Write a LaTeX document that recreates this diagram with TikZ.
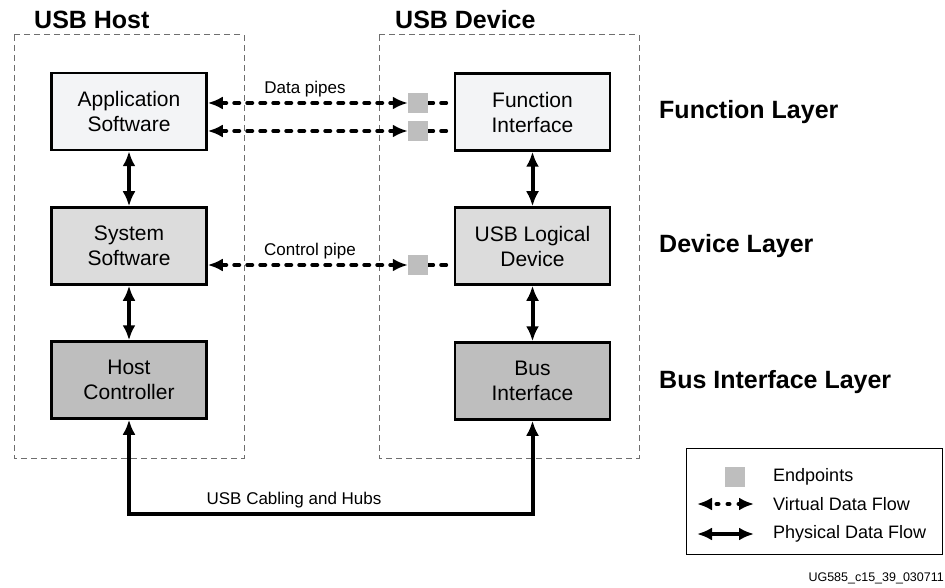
\documentclass[tikz,border=0pt]{standalone}
\usepackage{fontspec}
\setmainfont{Liberation Sans}
\usetikzlibrary{arrows.meta,positioning,calc}
\definecolor{fnfill}{HTML}{F3F4F6}
\definecolor{devfill}{HTML}{DCDCDC}
\definecolor{busfill}{HTML}{BEBEBE}
\definecolor{keretszin}{HTML}{6E6E6E}
\tikzset{
  blokk/.style={draw,line width=2.5pt,minimum width=155pt,minimum height=77pt,
    align=center,inner sep=2pt,font=\fontsize{21}{25}\selectfont},
  vegp/.style={fill=busfill,minimum size=20pt,inner sep=0pt},
  keret/.style={draw=keretszin,line width=1pt,dash pattern=on 6pt off 4pt},
  fiz/.style={line width=4pt,{Latex[length=15pt,width=13pt]}-{Latex[length=15pt,width=13pt]}},
  virt/.style={line width=4pt,line cap=round,dash pattern=on 5pt off 8pt},
  virtnyil/.style={virt,{Latex[length=15pt,width=13pt]}-{Latex[length=15pt,width=13pt]}},
  cim/.style={font=\bfseries\fontsize{25}{30}\selectfont,anchor=west,inner sep=0pt},
  cimke/.style={font=\fontsize{17}{20}\selectfont,inner sep=0pt},
  jelm/.style={font=\fontsize{18}{22}\selectfont,anchor=west,inner sep=0pt},
}
\begin{document}
\begin{tikzpicture}[x=1pt,y=-1pt]
  \useasboundingbox (0,0) rectangle (945,588);
  \draw[keret] (14,35) rectangle (244,458);
  \draw[keret] (379,35) rectangle (639,458);
  \node[cim] (host) at (34,20) {USB Host};
  \node[cim] (dev) at (395,20) {USB Device};

  \node[blokk,fill=fnfill] (app) at (129,111.5) {Application\\Software};
  \node[blokk,fill=devfill] (sys) at (129,246) {System\\Software};
  \node[blokk,fill=busfill] (hc) at (129,380) {Host\\Controller};
  \node[blokk,fill=fnfill] (fi) at (532.5,112) {Function\\Interface};
  \node[blokk,fill=devfill] (uld) at (532.5,246) {USB Logical\\Device};
  \node[blokk,fill=busfill] (bi) at (532.5,381) {Bus\\Interface};

  \node[cim] (fl) at (659,112) {Function Layer};
  \node[cim] (dl) at (659,246) {Device Layer};
  \node[cim] (bl) at (659,382) {Bus Interface Layer};

  \node[vegp] (ep1) at (418,103) {};
  \node[vegp] (ep2) at (418,131) {};
  \node[vegp] (ep3) at (418,265) {};
  \draw[virtnyil] (ep1 -| app.east) -- (ep1.west);
  \draw[virtnyil] (ep2 -| app.east) -- (ep2.west);
  \draw[virtnyil] (ep3 -| sys.east) -- (ep3.west);
  \draw[virt] (ep1.east) -- (ep1 -| fi.west);
  \draw[virt] (ep2.east) -- (ep2 -| fi.west);
  \draw[virt] (ep3.east) -- (ep3 -| uld.west);
  \node[vegp] at (ep1) {}; \node[vegp] at (ep2) {}; \node[vegp] at (ep3) {};
  \node[cimke] (dp) at (305,89) {Data pipes};
  \node[cimke] (cp) at (310,251) {Control pipe};

  \draw[fiz] (app) -- (sys);
  \draw[fiz] (sys) -- (hc);
  \draw[fiz] (fi) -- (uld);
  \draw[fiz] (uld) -- (bi);
  \coordinate (kabel) at (0,514);
  \draw[fiz] (hc.south) -- (hc.south |- kabel) -- (bi.south |- kabel) -- (bi.south);
  \node[cimke] (cab) at (294,500) {USB Cabling and Hubs};

  \node[draw,line width=1pt,minimum width=256pt,minimum height=106pt] (leg) at (814,501) {};
  \node[vegp] (lep) at (735,477) {};
  \coordinate (va) at (697,504); \coordinate (vb) at (754,504);
  \coordinate (pa) at (697,534); \coordinate (pb) at (754,534);
  \draw[virtnyil,dash pattern=on 2pt off 9pt,dash phase=5pt] (va) -- (vb);
  \draw[fiz] (pa) -- (pb);
  \node[jelm] (t1) at (773,477) {Endpoints};
  \node[jelm] (t2) at (773,504) {Virtual Data Flow};
  \node[jelm] (t3) at (773,534) {Physical Data Flow};
  \node[font=\fontsize{12.5}{15}\selectfont,anchor=east,inner sep=0pt] (id) at (944,578) {UG585\_c15\_39\_030711};
\end{tikzpicture}
\end{document}
